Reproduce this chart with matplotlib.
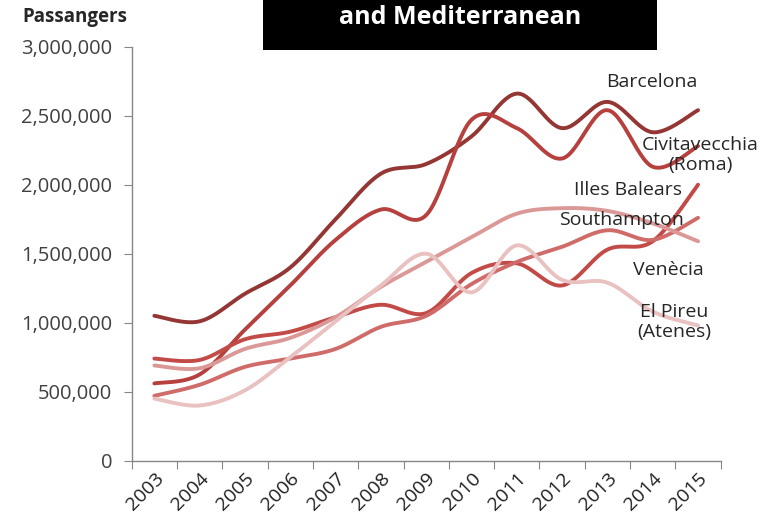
import numpy as np
import matplotlib
matplotlib.use("Agg")
import matplotlib.pyplot as plt
from matplotlib.patches import Rectangle
from matplotlib.ticker import FuncFormatter, FixedLocator

years = ["2003", "2004", "2005", "2006", "2007", "2008", "2009",
         "2010", "2011", "2012", "2013", "2014", "2015"]

barcelona = [1050000, 1010000, 1210000, 1400000, 1750000, 2080000, 2150000,
             2350000, 2660000, 2410000, 2600000, 2380000, 2540000]
civitavecchia = [560000, 625000, 950000, 1270000, 1600000, 1820000, 1780000,
                 2470000, 2410000, 2190000, 2540000, 2130000, 2280000]
illes_balears = [740000, 730000, 880000, 935000, 1040000, 1130000, 1070000,
                 1360000, 1430000, 1270000, 1530000, 1590000, 2000000]
southampton = [470000, 550000, 680000, 740000, 810000, 970000, 1050000,
               1280000, 1440000, 1550000, 1670000, 1600000, 1760000]
venecia = [690000, 670000, 810000, 890000, 1040000, 1260000, 1440000,
           1620000, 1790000, 1830000, 1810000, 1720000, 1590000]
el_pireu = [450000, 400000, 510000, 750000, 1010000, 1270000, 1500000,
            1220000, 1560000, 1310000, 1290000, 1080000, 980000]

series = [
    ("Barcelona", barcelona, "#943634"),
    ("Civitavecchia\n(Roma)", civitavecchia, "#B5403D"),
    ("Illes Balears", illes_balears, "#C24A47"),
    ("Southampton", southampton, "#CF6C69"),
    ("Venècia", venecia, "#DA9896"),
    ("El Pireu\n(Atenes)", el_pireu, "#E8C1C0"),
]

y_ticks = [0, 500000, 1000000, 1500000, 2000000, 2500000, 3000000]


def smooth(xs, ys, n=30):
    """Excel-style smoothed line (cubic Bezier with Catmull-Rom control points)."""
    P = np.column_stack([xs, ys]).astype(float)
    out = []
    m = len(P)
    for i in range(m - 1):
        p0 = P[i - 1] if i > 0 else P[i]
        p1 = P[i]
        p2 = P[i + 1]
        p3 = P[i + 2] if i + 2 < m else P[i + 1]
        c1 = p1 + (p2 - p0) / 6.0
        c2 = p2 - (p3 - p1) / 6.0
        t = np.linspace(0, 1, n)[:, None]
        seg = ((1 - t) ** 3) * p1 + 3 * ((1 - t) ** 2) * t * c1 + 3 * (1 - t) * t ** 2 * c2 + t ** 3 * p2
        if i > 0:
            seg = seg[1:]
        out.append(seg)
    out = np.vstack(out)
    return out[:, 0], out[:, 1]


plt.rcParams['font.family'] = ['Open Sans', 'DejaVu Sans']

fig = plt.figure(figsize=(7.69, 5.25), dpi=100)
ax = fig.add_axes([131.7 / 769, 1 - 460.7 / 525, (720.7 - 131.7) / 769, (460.7 - 46.7) / 525])

x = np.arange(len(years))
for name, vals, color in series:
    sx, sy = smooth(x, vals)
    ax.plot(sx, sy, color=color, lw=2.8, solid_capstyle='round', zorder=3)

ax.set_xlim(-0.5, len(years) - 0.5)
ax.set_ylim(0, 3000000)

axis_gray = "#868686"
for s in ["top", "right"]:
    ax.spines[s].set_visible(False)
for s in ["left", "bottom"]:
    ax.spines[s].set_color(axis_gray)
    ax.spines[s].set_linewidth(1.0)

ax.set_yticks(y_ticks)
ax.yaxis.set_major_formatter(FuncFormatter(lambda v, p: f"{int(v):,}"))
ax.tick_params(axis='y', direction='out', length=6, color=axis_gray,
               labelsize=14.5, labelcolor="#404040", pad=8)

ax.xaxis.set_major_locator(FixedLocator(np.arange(-0.5, len(years), 1.0)))
ax.tick_params(axis='x', which='major', direction='out', length=6, color=axis_gray, labelbottom=False)
ax.set_xticks(x, minor=True)
ax.set_xticklabels(years, minor=True, rotation=45, ha='right', va='top', rotation_mode='anchor')
ax.tick_params(axis='x', which='minor', length=0, labelsize=14, labelcolor="#202020", pad=6)

# series labels
label_pos = {
    "Barcelona": (652, 82),
    "Civitavecchia\n(Roma)": (700, 155),
    "Illes Balears": (628, 190),
    "Southampton": (622, 220),
    "Venècia": (668, 270),
    "El Pireu\n(Atenes)": (674, 322),
}
for name, (px, py) in label_pos.items():
    fig.text(px / 769, 1 - py / 525, name, ha='center', va='center', fontsize=14,
             color="#262626", linespacing=1.15)

# y-axis title
fig.text(22 / 769, 1 - 17 / 525, "Passangers", ha='left', va='center', fontsize=13.5,
         fontweight='bold', color="#262626")

# title box (clipped at top)
fig.patches.append(Rectangle((263 / 769, 1 - 50 / 525), (657 - 263) / 769, 50 / 525,
                             transform=fig.transFigure, facecolor='black', edgecolor='none'))
fig.text(460 / 769, 1 - 17 / 525, "and Mediterranean", ha='center', va='center', fontsize=18,
         fontweight='bold', color='white')

fig.savefig("out.png", dpi=100)
